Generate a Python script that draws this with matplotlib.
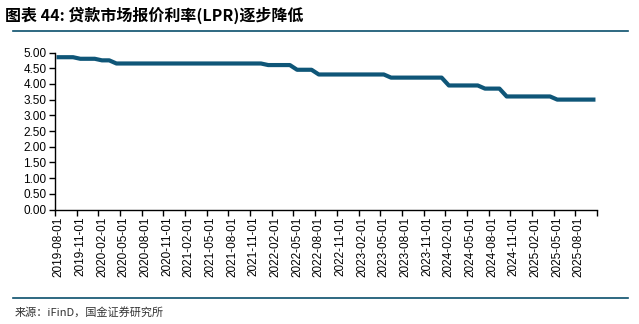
import matplotlib
matplotlib.use("Agg")
import matplotlib.pyplot as plt
import numpy as np
import pandas as pd

plt.rcParams['font.family'] = ['Liberation Sans', 'Noto Sans CJK SC', 'DejaVu Sans']

# Monthly 5Y LPR, 2019-08 .. 2025-10
months = pd.date_range("2019-08-01", "2025-10-01", freq="MS")
lpr = ([4.85]*3 + [4.80]*3 + [4.75]*2 + [4.65]*21 + [4.60]*4 + [4.45]*3 +
       [4.30]*10 + [4.20]*8 + [3.95]*5 + [3.85]*3 + [3.60]*7 + [3.50]*6)
assert len(lpr) == len(months)
tick_labels = [d.strftime("%Y-%m-%d") for d in months][::3]
yticks = [0.0, 0.5, 1.0, 1.5, 2.0, 2.5, 3.0, 3.5, 4.0, 4.5, 5.0]

title = "图表 44: 贷款市场报价利率(LPR)逐步降低"
source = "来源：iFinD，国金证券研究所"

W, H = 639, 324
fig = plt.figure(figsize=(W/100, H/100), dpi=100)
ax = fig.add_axes([55/W, 1-209.5/H, (597-55)/W, (209.5-52.5)/H])

x = np.arange(len(lpr))
ax.plot(x, lpr, color='#0f5678', lw=3.0, solid_joinstyle='round')

ax.set_xlim(-0.5, len(lpr)-0.5)
ax.set_ylim(0, 5)
ax.set_yticks(yticks)
ax.set_yticklabels([f"{v:.2f}" for v in yticks], fontsize=8.5)
ax.set_xticks(x[::3])
ax.set_xticklabels(tick_labels, rotation=90, fontsize=8.5)
ax.tick_params(axis='x', which='major', length=0, pad=5)
ax.set_xticks(np.arange(-0.5, len(lpr), 3), minor=True)
ax.tick_params(axis='x', which='minor', length=4, direction='out', width=1)
ax.tick_params(axis='y', length=4, direction='out', width=1, pad=2)
for s in ['top', 'right']:
    ax.spines[s].set_visible(False)
for s in ['left', 'bottom']:
    ax.spines[s].set_linewidth(1)
    ax.spines[s].set_color('black')

fig.text(5/W, 1-15/H, title, fontsize=11.5, fontweight='bold', va='center', ha='left',
         family=['Noto Sans CJK SC', 'DejaVu Sans'])
fig.add_artist(plt.Line2D([13/W, 628/W], [1-31/H, 1-31/H], color='#0b4f6c', lw=1.2))
fig.add_artist(plt.Line2D([13/W, 628/W], [1-298/H, 1-298/H], color='#0b4f6c', lw=1.2))
fig.text(15/W, 1-312/H, source, fontsize=8, va='center', ha='left', color='#333333',
         family=['Noto Sans CJK SC', 'DejaVu Sans'])

fig.savefig("out.png", dpi=100)
